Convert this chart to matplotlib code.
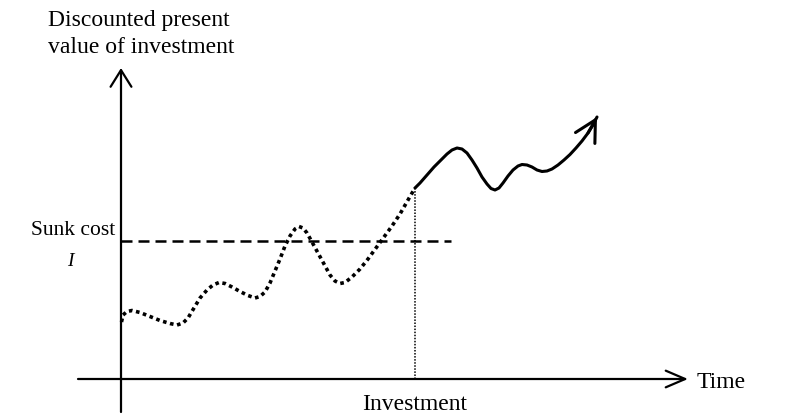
import matplotlib
matplotlib.use("Agg")
import matplotlib.pyplot as plt

plt.rcParams["font.family"] = ["Liberation Serif", "DejaVu Serif"]

# path of the investment's value (time, value; origin at the axes crossing)
before_t = [0.5, 2, 6, 11, 19, 29, 39, 49, 56, 62, 67, 73, 79, 86, 92, 98, 104, 111, 119, 127,
            134, 139, 144, 149, 154, 159, 164, 169, 174, 178, 182, 186, 191, 197, 203, 209, 214,
            219, 224, 231, 239, 247, 255, 263, 271, 279, 287, 294]
before_v = [57, 64, 67.5, 68.5, 66.5, 62.5, 58.5, 55.5, 54, 56, 61, 71, 81, 89, 94, 96.5, 95.5, 92,
            87.5, 83.5, 81, 82.5, 87, 96, 108, 120, 133, 143, 150, 152.5, 151, 146, 137, 126, 115,
            104, 98, 95.5, 96.5, 102, 110, 120, 131, 142, 153, 165, 179, 191]
after_t = [294, 299, 306, 313, 320, 326, 331, 336, 341, 346, 351, 356, 361, 366, 370, 374, 378,
           382, 387, 392, 397, 401, 406, 411, 416, 421, 426, 431, 437, 443, 449, 455, 461, 467,
           472, 476]
after_v = [191, 196, 204, 212, 219, 225, 229, 231, 230, 226, 219, 211, 202, 195, 190.5, 189, 191,
           196, 203, 209, 213, 214.5, 214, 212, 209, 207.5, 208, 210, 214, 219, 224.5, 231, 238,
           246, 254, 262]
sunk_cost = 138
sunk_end = 330
invest_t = 294
invest_v = 191

fig = plt.figure(figsize=(7.91, 4.17), dpi=100)
ax = fig.add_axes([0, 0, 1, 1])
ax.set_xlim(-121, 670)
ax.set_ylim(-38, 379)
ax.axis("off")

# axes with open arrow heads
ax.annotate("", xy=(567, 0), xytext=(-43, 0),
            arrowprops=dict(arrowstyle="->,head_length=1.4,head_width=0.6", lw=1.6,
                            color="black", shrinkA=0, shrinkB=0, mutation_scale=10))
ax.annotate("", xy=(0, 311), xytext=(0, -33),
            arrowprops=dict(arrowstyle="->,head_length=1.2,head_width=0.75", lw=1.6,
                            color="black", shrinkA=0, shrinkB=0, mutation_scale=10))

# sunk cost level and investment moment
ax.plot([0, sunk_end], [sunk_cost, sunk_cost], color="black", lw=1.8,
        linestyle=(0, (4.4, 2.4)))
ax.plot([invest_t, invest_t], [0, invest_v], color="black", lw=1.1,
        linestyle=(0, (1, 1)))

# value path: dotted before investing, solid after
ax.plot(before_t, before_v, color="black", lw=2.6, linestyle=(0, (1, 1)),
        solid_joinstyle="round")
ax.plot(after_t, after_v, color="black", lw=2.2, solid_capstyle="round",
        solid_joinstyle="round")
ax.annotate("", xy=(after_t[-1], after_v[-1]), xytext=(after_t[-3], after_v[-3]),
            arrowprops=dict(arrowstyle="->,head_length=1.5,head_width=0.8", lw=2.2,
                            color="black", shrinkA=0, shrinkB=0, mutation_scale=10))

fs = 17
ax.text(-73, 353, "Discounted present", ha="left", va="baseline", fontsize=fs)
ax.text(-73, 326, "value of investment", ha="left", va="baseline", fontsize=fs)
ax.text(576, -3, "Time", ha="left", va="center", fontsize=fs)
ax.text(invest_t, -26, "Investment", ha="center", va="center", fontsize=fs)
ax.text(-6, 149, "Sunk cost", ha="right", va="center", fontsize=15.5)
ax.text(-51, 117, "I", ha="center", va="center", fontsize=14, style="italic")

fig.savefig("out.png", dpi=100)
